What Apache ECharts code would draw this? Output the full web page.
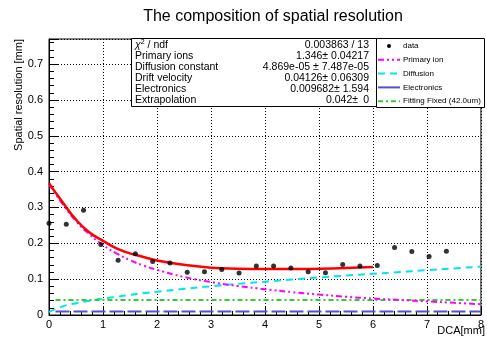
<!DOCTYPE html>
<html>
<head>
<meta charset="utf-8">
<script src="https://cdn.jsdelivr.net/npm/echarts@6/dist/echarts.min.js"></script>
<style>html,body{margin:0;padding:0;background:#fff;}#c{width:487px;height:340px;}</style>
</head>
<body>
<div id="c"></div>
<script>
// ---- data ----
var dataX = [0,0.32,0.64,0.96,1.28,1.6,1.92,2.24,2.56,2.88,3.2,3.52,3.84,4.16,4.48,4.8,5.12,5.44,5.76,6.08,6.4,6.72,7.04,7.36];
var dataY = [0.256,0.253,0.292,0.197,0.153,0.171,0.149,0.145,0.119,0.121,0.127,0.117,0.137,0.137,0.131,0.121,0.118,0.141,0.137,0.138,0.188,0.177,0.163,0.178];

var totalX = [0,0.25,0.5,0.75,1,1.25,1.5,1.75,2,2.5,3,3.5,4,4.5,5,5.5,6];
var totalY = [0.368,0.315,0.266,0.230,0.207,0.186,0.172,0.162,0.152,0.140,0.132,0.129,0.128,0.128,0.129,0.131,0.134];

var compX = [0,0.25,0.5,0.75,1,1.25,1.5,1.75,2,2.5,3,3.5,4,4.5,5,5.5,6,6.5,7,7.5,8];
var primaryY = [0.365,0.310,0.262,0.225,0.195,0.172,0.153,0.138,0.126,0.106,0.092,0.081,0.072,0.064,0.057,0.051,0.046,0.042,0.038,0.034,0.030];
var diffusionY = [0.008,0.024,0.033,0.040,0.046,0.051,0.056,0.061,0.065,0.073,0.080,0.087,0.093,0.099,0.105,0.110,0.115,0.120,0.125,0.130,0.135];

var flatX = [0.12,8];
var electronicsY = [0.0097,0.0097];
var fixedY = [0.042,0.042];

var statLabels = ['/ ndf','Primary ions','Diffusion constant','Drift velocity','Electronics','Extrapolation'];
var statValues = ['0.003863 / 13','1.346\u00b1 0.04217','4.869e-05 \u00b1 7.487e-05','0.04126\u00b1 0.06309','0.009682\u00b1 1.594','0.042\u00b1'];
var legendNames = ['data','Primary ion','Diffusion','Electronics','Fitting Fixed (42.0um)'];

function zip(xs, ys){ return xs.map(function(x,i){ return [x, ys[i]]; }); }

var FONT = '"Liberation Sans", Arial, Helvetica, sans-serif';
var chart = echarts.init(document.getElementById('c'), null, {renderer:'canvas'});

// legend graphics
var legendColors = ['#000','#ff00ff','#00e5ee','#5050d0','#33cc33'];
var legendDash = [null,[6,3,2,3,2,3],[7,5],'solid',[5,3,2,3]];
var legG = [];
legG.push({type:'rect', shape:{x:376.5,y:38.5,width:108,height:69}, style:{fill:'#fff',stroke:'#000',lineWidth:1}, z:100});
for (var i=0;i<legendNames.length;i++){
  var cy = 46 + i*13.8;
  if (i===0){
    legG.push({type:'circle', shape:{cx:389,cy:cy,r:2}, style:{fill:'#000'}, z:101});
  } else {
    legG.push({type:'line', shape:{x1:378,y1:cy,x2:400,y2:cy}, style:{stroke:legendColors[i],lineWidth:2,lineDash:legendDash[i]==='solid'?null:legendDash[i]}, z:101});
  }
  legG.push({type:'text', x:403, y:cy, style:{text:legendNames[i], font:'8px '+FONT, fill:'#000', textVerticalAlign:'middle'}, z:101});
}

// stats box
var statG = [];
statG.push({type:'rect', shape:{x:131.5,y:38.5,width:245,height:68}, style:{fill:'#fff',stroke:'#000',lineWidth:1}, z:100});
for (var j=0;j<statLabels.length;j++){
  var sy = 45 + j*11;
  if (j===0){
    statG.push({type:'text', x:135, y:sy, style:{text:'{c|\u03c7}{s|2}{n| '+statLabels[j]+'}', rich:{c:{font:'italic 10.5px '+FONT,fill:'#000'},s:{font:'7px '+FONT,fill:'#000',verticalAlign:'top',padding:[0,0,6,0]},n:{font:'10.5px '+FONT,fill:'#000'}}, textVerticalAlign:'middle'}, z:101});
  } else {
    statG.push({type:'text', x:135, y:sy, style:{text:statLabels[j], font:'10.5px '+FONT, fill:'#000', textVerticalAlign:'middle'}, z:101});
  }
  statG.push({type:'text', x:(j===5?358:369), y:sy, style:{text:statValues[j], font:'10.5px '+FONT, fill:'#000', textAlign:'right', textVerticalAlign:'middle'}, z:101});
}
statG.push({type:'text', x:369, y:100, style:{text:'0', font:'10.5px '+FONT, fill:'#000', textAlign:'right', textVerticalAlign:'middle'}, z:101});

var graphics = [
  {type:'text', x:273, y:17, style:{text:'The composition of spatial resolution', font:'16px '+FONT, fill:'#000', textAlign:'center', textVerticalAlign:'middle'}},
  {type:'text', x:19, y:39, rotation:Math.PI/2, style:{text:'Spatial resolution [mm]', font:'11px '+FONT, fill:'#000', textAlign:'right', textVerticalAlign:'middle'}},
  {type:'text', x:485, y:331, style:{text:'DCA[mm]', font:'11px '+FONT, fill:'#000', textAlign:'right', textVerticalAlign:'middle'}}
].concat(statG).concat(legG);

var option = {
  animation:false,
  backgroundColor:'#fff',
  grid:{left:49,right:2,top:39,bottom:25,show:true,borderColor:'#000',borderWidth:1,backgroundColor:'transparent'},
  xAxis:{type:'value',min:0,max:8,interval:1,
    axisLine:{onZero:false,lineStyle:{color:'#000',width:1}},
    axisTick:{inside:true,length:8,lineStyle:{color:'#000'}},
    minorTick:{show:true,splitNumber:5,length:4,lineStyle:{color:'#000'}},
    splitLine:{show:true,lineStyle:{color:'#000',type:[1,2],width:1}},
    axisLabel:{color:'#000',fontSize:11,fontFamily:FONT,margin:4}
  },
  yAxis:{type:'value',min:0,max:0.77,interval:0.1,
    axisLine:{onZero:false,lineStyle:{color:'#000',width:1}},
    axisTick:{inside:true,length:9,lineStyle:{color:'#000'}},
    minorTick:{show:true,splitNumber:5,length:5,lineStyle:{color:'#000'}},
    splitLine:{show:true,lineStyle:{color:'#000',type:[1,2],width:1}},
    axisLabel:{color:'#000',fontSize:11,fontFamily:FONT,margin:6,showMaxLabel:false,
      formatter:function(v){ var r=Math.round(v*10)/10; if (Math.abs(r-v)>1e-6) return ''; return r===0?'0':r.toFixed(1);} }
  },
  series:[
    {type:'line',name:'Diffusion',data:zip(compX,diffusionY),smooth:true,showSymbol:false,lineStyle:{color:'#00e5ee',width:2,type:[7,5]},z:3},
    {type:'line',name:'Fitting Fixed',data:zip(flatX,fixedY),showSymbol:false,lineStyle:{color:'#33cc33',width:2,type:[5,3,2,3]},z:3},
    {type:'line',name:'Electronics',data:zip(flatX,electronicsY),showSymbol:false,lineStyle:{color:'#5050d0',width:2,type:[14,4]},z:3},
    {type:'line',name:'Primary ion',data:zip(compX,primaryY),smooth:true,showSymbol:false,lineStyle:{color:'#ff00ff',width:2,type:[6,3,2,3,2,3]},z:4},
    {type:'line',name:'Total',data:zip(totalX,totalY),smooth:true,showSymbol:false,lineStyle:{color:'#ff0000',width:2.5},z:5},
    {type:'scatter',name:'data',data:zip(dataX,dataY),symbol:'circle',symbolSize:5,itemStyle:{color:'#000'},z:6}
  ],
  graphic:graphics
};
chart.setOption(option);
</script>
</body>
</html>
